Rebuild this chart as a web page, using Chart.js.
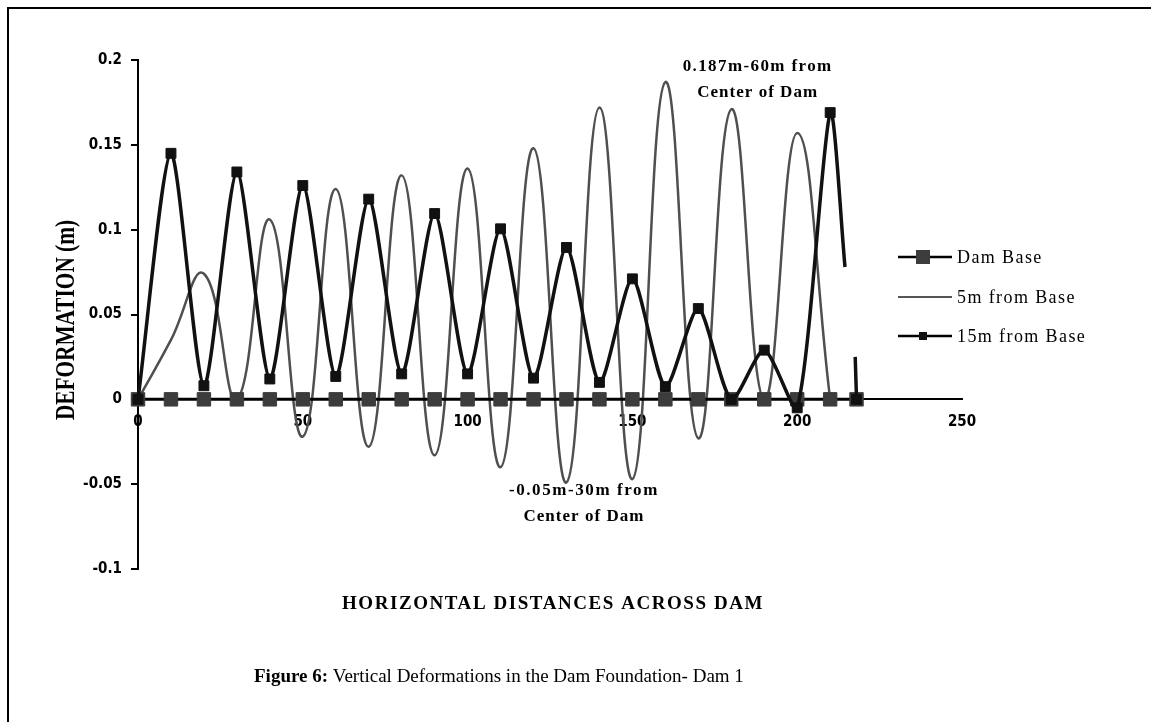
<!DOCTYPE html>
<html>
<head>
<meta charset="utf-8">
<title>Vertical Deformations in the Dam Foundation</title>
<script src="https://cdn.jsdelivr.net/npm/chart.js@4.4.1/dist/chart.umd.min.js"></script>
<style>
  html, body { margin: 0; padding: 0; background: #fff; }
  #wrap { position: relative; width: 1151px; height: 723px; }
  #frame { position: absolute; left: 7px; top: 7px; right: 0; bottom: 1px;
           border-left: 2px solid #000; border-top: 2px solid #000; pointer-events: none; }
</style>
</head>
<body>
<div id="wrap"><canvas id="chart"></canvas><div id="frame"></div></div>
<script>
// series values
const seriesNames = ['Dam Base', '5m from Base', '15m from Base'];

const baseX = [0, 10, 20, 30, 40, 50, 60, 70, 80, 90, 100, 110, 120, 130, 140, 150, 160, 170, 180, 190, 200, 210, 218];
const baseY = [0, 0, 0, 0, 0, 0, 0, 0, 0, 0, 0, 0, 0, 0, 0, 0, 0, 0, 0, 0, 0, 0, 0];

const fiveX = [0, 10, 20, 30, 40, 50, 60, 70, 80, 90, 100, 110, 120, 130, 140, 150, 160, 170, 180, 190, 200, 210];
const fiveY = [0, 0.035, 0.074, 0.0, 0.106, -0.022, 0.124, -0.028, 0.132, -0.033, 0.136, -0.040,
               0.148, -0.049, 0.172, -0.047, 0.187, -0.023, 0.171, 0.0, 0.157, 0.0];

const fifteenX = [0, 10, 20, 30, 40, 50, 60, 70, 80, 90, 100, 110, 120, 130, 140, 150, 160, 170, 180, 190, 200, 210,
                  214.5, 216, 217.6, 218];
const fifteenY = [0, 0.145, 0.008, 0.134, 0.012, 0.126, 0.0135, 0.118, 0.015, 0.1095, 0.015, 0.1005,
                  0.0125, 0.0895, 0.010, 0.071, 0.0075, 0.0535, 0.0, 0.029, -0.005, 0.169,
                  0.078, null, 0.025, 0];

const xTicks = [0, 50, 100, 150, 200, 250];
const yTicks = [-0.1, -0.05, 0, 0.05, 0.1, 0.15, 0.2];

const notes = [
    { lines: ['0.187m-60m from', 'Center of Dam'], x: 188, y: 0.196 },
    { lines: ['-0.05m-30m from', 'Center of Dam'], x: 135.3, y: -0.0537 }
];

const tickFont = { family: "'DejaVu Sans Condensed', 'DejaVu Sans', sans-serif", size: 15, weight: 'bold' };
const serif = "'Liberation Serif', 'Times New Roman', serif";

const pts = (xs, ys) => xs.map((x, i) => ({ x: x, y: ys[i] }));

// stretch text to a given width with letter spacing
function spreadText(ctx, text, cx, cy, width) {
    ctx.letterSpacing = '0px';
    const w = ctx.measureText(text).width;
    const sp = Math.max(0, (width - w) / text.length);
    ctx.letterSpacing = sp + 'px';
    ctx.textAlign = 'left';
    ctx.fillText(text, cx - width / 2, cy);
    ctx.letterSpacing = '0px';
}

const decorPlugin = {
    id: 'decor',
    afterDraw(chart) {
        const { ctx } = chart;
        const xs = chart.scales.x, ys = chart.scales.y;
        ctx.save();
        ctx.fillStyle = '#000';
        ctx.textBaseline = 'middle';

        // annotations
        ctx.font = 'bold 17px ' + serif;
        notes.forEach(n => {
            const px = xs.getPixelForValue(n.x), py = ys.getPixelForValue(n.y);
            spreadText(ctx, n.lines[0], px, py, 150);
            spreadText(ctx, n.lines[1], px, py + 26, 121);
        });

        // legend
        const rows = [257, 297, 336];
        ctx.font = '18px ' + serif;
        rows.forEach((ry, i) => {
            ctx.beginPath();
            ctx.moveTo(898, ry); ctx.lineTo(952, ry);
            ctx.lineWidth = i === 1 ? 2 : 2.5;
            ctx.strokeStyle = i === 1 ? '#555' : '#000';
            ctx.stroke();
            if (i === 0) { ctx.fillStyle = '#3c3c3c'; ctx.fillRect(916, ry - 7, 14, 14); }
            if (i === 2) { ctx.fillStyle = '#111'; ctx.fillRect(919, ry - 4, 8, 8); }
            ctx.fillStyle = '#000';
            ctx.textAlign = 'left';
            ctx.letterSpacing = '1.4px';
            ctx.fillText(seriesNames[i], 957, ry + 1);
            ctx.letterSpacing = '0px';
        });

        // axis titles
        ctx.font = 'bold 19px ' + serif;
        spreadText(ctx, 'HORIZONTAL DISTANCES ACROSS DAM', 553, 604, 422);

        ctx.save();
        ctx.translate(67, 320);
        ctx.rotate(-Math.PI / 2);
        ctx.font = 'bold 18px ' + serif;
        const yt = 'DEFORMATION (m)';
        const tw = ctx.measureText(yt).width;
        ctx.scale(200 / tw, 1.5);
        ctx.textAlign = 'center';
        ctx.fillText(yt, 0, 0);
        ctx.restore();

        // caption
        ctx.textAlign = 'left';
        ctx.font = 'bold 19px ' + serif;
        const lead = 'Figure 6:';
        ctx.fillText(lead, 254, 677);
        const lw = ctx.measureText(lead).width;
        ctx.font = '19px ' + serif;
        ctx.fillText(' Vertical Deformations in the Dam Foundation- Dam 1', 254 + lw, 677);
        ctx.restore();
    }
};

new Chart(document.getElementById('chart'), {
    type: 'line',
    data: {
        datasets: [
            {
                label: seriesNames[0], data: pts(baseX, baseY), order: 1, clip: false,
                borderColor: '#000', borderWidth: 3, tension: 0,
                pointStyle: 'rect', pointRadius: 9.5, pointBackgroundColor: '#3c3c3c',
                pointBorderColor: '#3c3c3c', pointBorderWidth: 1
            },
            {
                label: seriesNames[1], data: pts(fiveX, fiveY), order: 2, clip: false,
                borderColor: '#4f4f4f', borderWidth: 2.5, tension: 0.45, pointRadius: 0
            },
            {
                label: seriesNames[2], data: pts(fifteenX, fifteenY), order: 0, clip: false,
                borderColor: '#111', borderWidth: 3.5, tension: 0.25, spanGaps: false,
                pointStyle: 'rect', pointBackgroundColor: '#111', pointBorderColor: '#111', pointBorderWidth: 1,
                pointRadius: c => (c.raw && (c.raw.x % 10 === 0 || c.raw.x === 218)) ? 7 : 0
            }
        ]
    },
    options: {
        responsive: true,
        maintainAspectRatio: false,
        animation: false,
        events: [],
        layout: { padding: { left: 0, top: 60, right: 189, bottom: 154 } },
        plugins: { legend: { display: false }, tooltip: { enabled: false } },
        scales: {
            x: {
                type: 'linear', min: 0, max: 250, position: { y: 0 },
                afterBuildTicks: s => { s.ticks = xTicks.map(v => ({ value: v })); },
                grid: { display: false, drawTicks: false },
                border: { display: true, color: '#000', width: 2 },
                ticks: { padding: 14, color: '#000', font: tickFont, maxRotation: 0 }
            },
            y: {
                type: 'linear', min: -0.1, max: 0.2,
                afterBuildTicks: s => { s.ticks = yTicks.map(v => ({ value: v })); },
                afterFit: s => { s.width = 138; },
                grid: { drawOnChartArea: false, drawTicks: true, tickLength: 7, color: '#000', lineWidth: 2 },
                border: { display: true, color: '#000', width: 2 },
                ticks: { padding: 9, color: '#000', font: tickFont, callback: v => String(+v.toFixed(2)) }
            }
        }
    },
    plugins: [decorPlugin]
});
</script>
</body>
</html>
